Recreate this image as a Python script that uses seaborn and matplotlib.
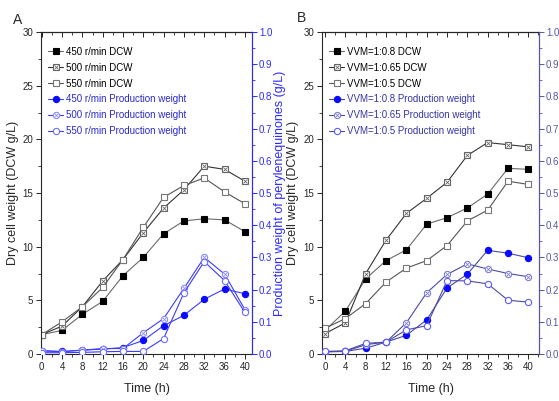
import matplotlib
matplotlib.use("Agg")
import matplotlib.pyplot as plt
import seaborn as sns
from matplotlib.ticker import MultipleLocator

# sampling times (h)
time_h = [0, 4, 8, 12, 16, 20, 24, 28, 32, 36, 40]

# panel A: agitation speed
a_dcw_450 = [1.8, 2.2, 3.7, 4.9, 7.3, 9.0, 11.2, 12.4, 12.6, 12.5, 11.4]
a_dcw_500 = [1.8, 2.6, 4.4, 6.8, 8.8, 11.3, 13.6, 15.3, 17.5, 17.2, 16.1]
a_dcw_550 = [1.8, 3.0, 4.4, 6.2, 8.8, 11.8, 14.6, 15.7, 16.4, 15.1, 14.0]
a_pw_450 = [0.010, 0.008, 0.012, 0.015, 0.020, 0.042, 0.088, 0.120, 0.170, 0.202, 0.187]
a_pw_500 = [0.010, 0.007, 0.012, 0.017, 0.017, 0.066, 0.110, 0.204, 0.300, 0.248, 0.138]
a_pw_550 = [0.004, 0.004, 0.005, 0.007, 0.008, 0.008, 0.048, 0.190, 0.287, 0.228, 0.129]
a_labels = ["450 r/min DCW", "500 r/min DCW", "550 r/min DCW",
            "450 r/min Production weight", "500 r/min Production weight",
            "550 r/min Production weight"]

# panel B: aeration rate
b_dcw_08 = [2.2, 4.0, 7.0, 8.7, 9.7, 12.1, 12.7, 13.6, 14.9, 17.3, 17.2]
b_dcw_065 = [1.9, 2.9, 7.5, 10.6, 13.1, 14.5, 16.0, 18.5, 19.7, 19.5, 19.3]
b_dcw_05 = [2.4, 3.3, 4.7, 6.7, 8.0, 8.7, 10.1, 12.4, 13.4, 16.1, 15.8]
b_pw_08 = [0.007, 0.008, 0.018, 0.037, 0.058, 0.106, 0.205, 0.248, 0.322, 0.313, 0.299]
b_pw_065 = [0.007, 0.008, 0.029, 0.037, 0.097, 0.190, 0.247, 0.280, 0.264, 0.250, 0.240]
b_pw_05 = [0.008, 0.010, 0.033, 0.037, 0.075, 0.088, 0.228, 0.227, 0.218, 0.167, 0.161]
b_labels = ["VVM=1:0.8 DCW", "VVM=1:0.65 DCW", "VVM=1:0.5 DCW",
            "VVM=1:0.8 Production weight", "VVM=1:0.65 Production weight",
            "VVM=1:0.5 Production weight"]

sns.set_style("ticks")
FONT = ["Liberation Sans", "DejaVu Sans"]
plt.rcParams["font.family"] = FONT
plt.rcParams["font.size"] = 7


def series(ax, y, lc, marker, mfc, mec, ms=4.5, cross=False):
    sns.lineplot(x=time_h, y=y, ax=ax, color=lc, linewidth=0.8, marker=marker,
                 markerfacecolor=mfc, markeredgecolor=mec, markersize=ms,
                 markeredgewidth=0.8, legend=False, errorbar=None)
    h = ax.lines[-1]
    if cross:
        ax.plot(time_h, y, ls="none", marker="x", ms=ms * 0.6, mew=0.6, color=mec)
        return (h, ax.lines[-1])
    return h


def panel(rect, xlim, dcw, pw, labels, rcol, pline, pcols, ptext, lx, rx):
    ax = fig.add_axes(rect)
    ax2 = ax.twinx()
    hs = []
    hs.append(series(ax, dcw[0], "#6a6a6a", "s", "black", "black"))
    hs.append(series(ax, dcw[1], "#333333", "s", "white", "#666666", cross=True))
    hs.append(series(ax, dcw[2], "#555555", "s", "white", "#777777"))
    hs.append(series(ax2, pw[0], pline, "o", pcols[0], pcols[0]))
    hs.append(series(ax2, pw[1], pline, "o", "white", pcols[1], cross=True))
    hs.append(series(ax2, pw[2], pline, "o", "white", pcols[2]))

    ax.set_xlim(*xlim)
    ax.set_ylim(0, 30)
    ax2.set_ylim(0, 1.0)
    ax.xaxis.set_major_locator(MultipleLocator(4))
    ax.xaxis.set_minor_locator(MultipleLocator(2))
    ax.yaxis.set_major_locator(MultipleLocator(5))
    ax.yaxis.set_minor_locator(MultipleLocator(2.5))
    ax2.yaxis.set_major_locator(MultipleLocator(0.1))
    ax2.yaxis.set_minor_locator(MultipleLocator(0.05))
    ax.tick_params(which="major", direction="out", length=3.5, width=0.7, pad=2)
    ax.tick_params(which="minor", direction="out", length=2, width=0.6)
    ax2.tick_params(which="major", direction="out", length=3.5, width=0.7,
                    colors=rcol, pad=1.5)
    ax2.tick_params(which="minor", direction="out", length=2, width=0.6, colors=rcol)
    ax2.yaxis.set_major_formatter(matplotlib.ticker.FormatStrFormatter("%.1f"))

    top = ax.secondary_xaxis("top")
    top.xaxis.set_major_locator(MultipleLocator(4))
    top.xaxis.set_minor_locator(MultipleLocator(2))
    top.tick_params(which="major", direction="in", length=3.5, width=0.7, labeltop=False)
    top.tick_params(which="minor", direction="in", length=2, width=0.6)

    for sp in ax.spines.values():
        sp.set_linewidth(0.8)
    for s in ["left", "top", "bottom"]:
        ax2.spines[s].set_visible(False)
    ax2.spines["right"].set_color(rcol)
    ax2.spines["right"].set_linewidth(0.8)
    top.spines["top"].set_linewidth(0.8)

    ax.set_xlabel("Time (h)", fontsize=9, labelpad=8)
    ax.set_ylabel("Dry cell weight (DCW g/L)", fontsize=9)
    ax.yaxis.set_label_coords(lx, 0.5)
    ax2.set_ylabel("Production weight of perylenequinones (g/L)", fontsize=9,
                   color=rcol)
    ax2.yaxis.set_label_coords(rx, 0.5)

    leg = ax2.legend(hs, labels, loc="upper left", bbox_to_anchor=(0.0, 0.975),
                     frameon=False, fontsize=7, handlelength=1.6,
                     handletextpad=0.3, labelspacing=0.6, borderaxespad=0.3)
    for i, t in enumerate(leg.get_texts()):
        t.set_color("black" if i < 3 else ptext)
    return ax


fig = plt.figure(figsize=(5.59, 4.01), dpi=100)

panel([41 / 559, 47 / 401, 211 / 559, 322 / 401], (-0.14, 41.4),
      [a_dcw_450, a_dcw_500, a_dcw_550], [a_pw_450, a_pw_500, a_pw_550],
      a_labels, "#2b2bff", "#3b3bff", ["#0a0aff", "#8a8aff", "#6f6fff"], "#2a2ad0",
      -0.105, 1.105)
panel([322 / 559, 47 / 401, 217 / 559, 322 / 401], (-0.6, 42.1),
      [b_dcw_08, b_dcw_065, b_dcw_05], [b_pw_08, b_pw_065, b_pw_05],
      b_labels, "#5656ad", "#4a4aa6", ["#0a0aff", "#7d7dd6", "#5c5cff"], "#3535a5",
      -0.105, 1.095)

fig.text(13 / 559, 1 - 20 / 401, "A", fontsize=10, va="center")
fig.text(297 / 559, 1 - 18 / 401, "B", fontsize=10, va="center")

fig.savefig("out.png", dpi=100)
